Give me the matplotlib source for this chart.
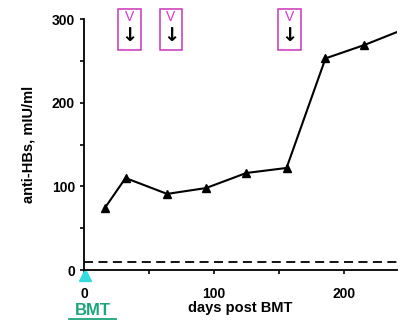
import matplotlib
matplotlib.use("Agg")
import matplotlib.pyplot as plt
from matplotlib.patches import Rectangle

plt.rcParams['font.family'] = ['Liberation Sans', 'DejaVu Sans']

# antibody titre after transplant
days = [16, 32, 64, 94, 125, 156, 186, 216, 250]
titre = [74, 110, 91, 98, 116, 122, 253, 269, 290]
threshold = 10
vacc_days = [35, 67, 158]

fig = plt.figure(figsize=(4.2, 3.23), dpi=100)
ax = fig.add_axes([0.2, 0.164, 0.745, 0.777])

ax.plot(days, titre, color='black', lw=1.5, marker='^', ms=5.5)
ax.axhline(threshold, color='black', lw=1.3, ls=(0, (5, 3)))

ax.set_xlim(0, 241)
ax.set_ylim(0, 300)
ax.set_xticks([0, 100, 200])
ax.set_xticks([50, 150], minor=True)
ax.set_yticks([0, 100, 200, 300])
ax.set_yticks([50, 150, 250], minor=True)
ax.tick_params(which='both', direction='out', length=3, width=1.2, labelsize=10)
ax.tick_params(axis='x', pad=9)
for lbl in ax.get_xticklabels() + ax.get_yticklabels():
    lbl.set_fontweight('bold')
for s in ['top', 'right']:
    ax.spines[s].set_visible(False)
for s in ['left', 'bottom']:
    ax.spines[s].set_linewidth(1.3)

ax.set_xlabel('days post BMT', fontsize=10.5, fontweight='bold', labelpad=0)
ax.set_ylabel('anti-HBs, mIU/ml', fontsize=10.5, fontweight='bold', labelpad=12)

# vaccination boxes
for d in vacc_days:
    ax.add_patch(Rectangle((d - 8.8, 263), 17.6, 49, fill=False, ec='#cc33bb',
                           lw=1.1, clip_on=False))
    ax.text(d, 302, 'V', color='#dd33cc', ha='center', va='center', fontsize=10,
            clip_on=False)
    ax.text(d, 280, '↓', color='black', ha='center', va='center', fontsize=14,
            fontweight='bold', family='DejaVu Sans', clip_on=False)

# transplant marker
ax.plot([1], [-6], marker='^', color='#33dddd', ms=8, clip_on=False)
fig.text(0.222, 0.04, 'BMT', color='#1aa57a', fontsize=12, fontweight='bold',
         ha='center', va='center')
fig.add_artist(plt.Line2D([0.165, 0.275], [0.012, 0.012], color='#1aa57a', lw=1.3))

fig.savefig('out.png', dpi=100)
